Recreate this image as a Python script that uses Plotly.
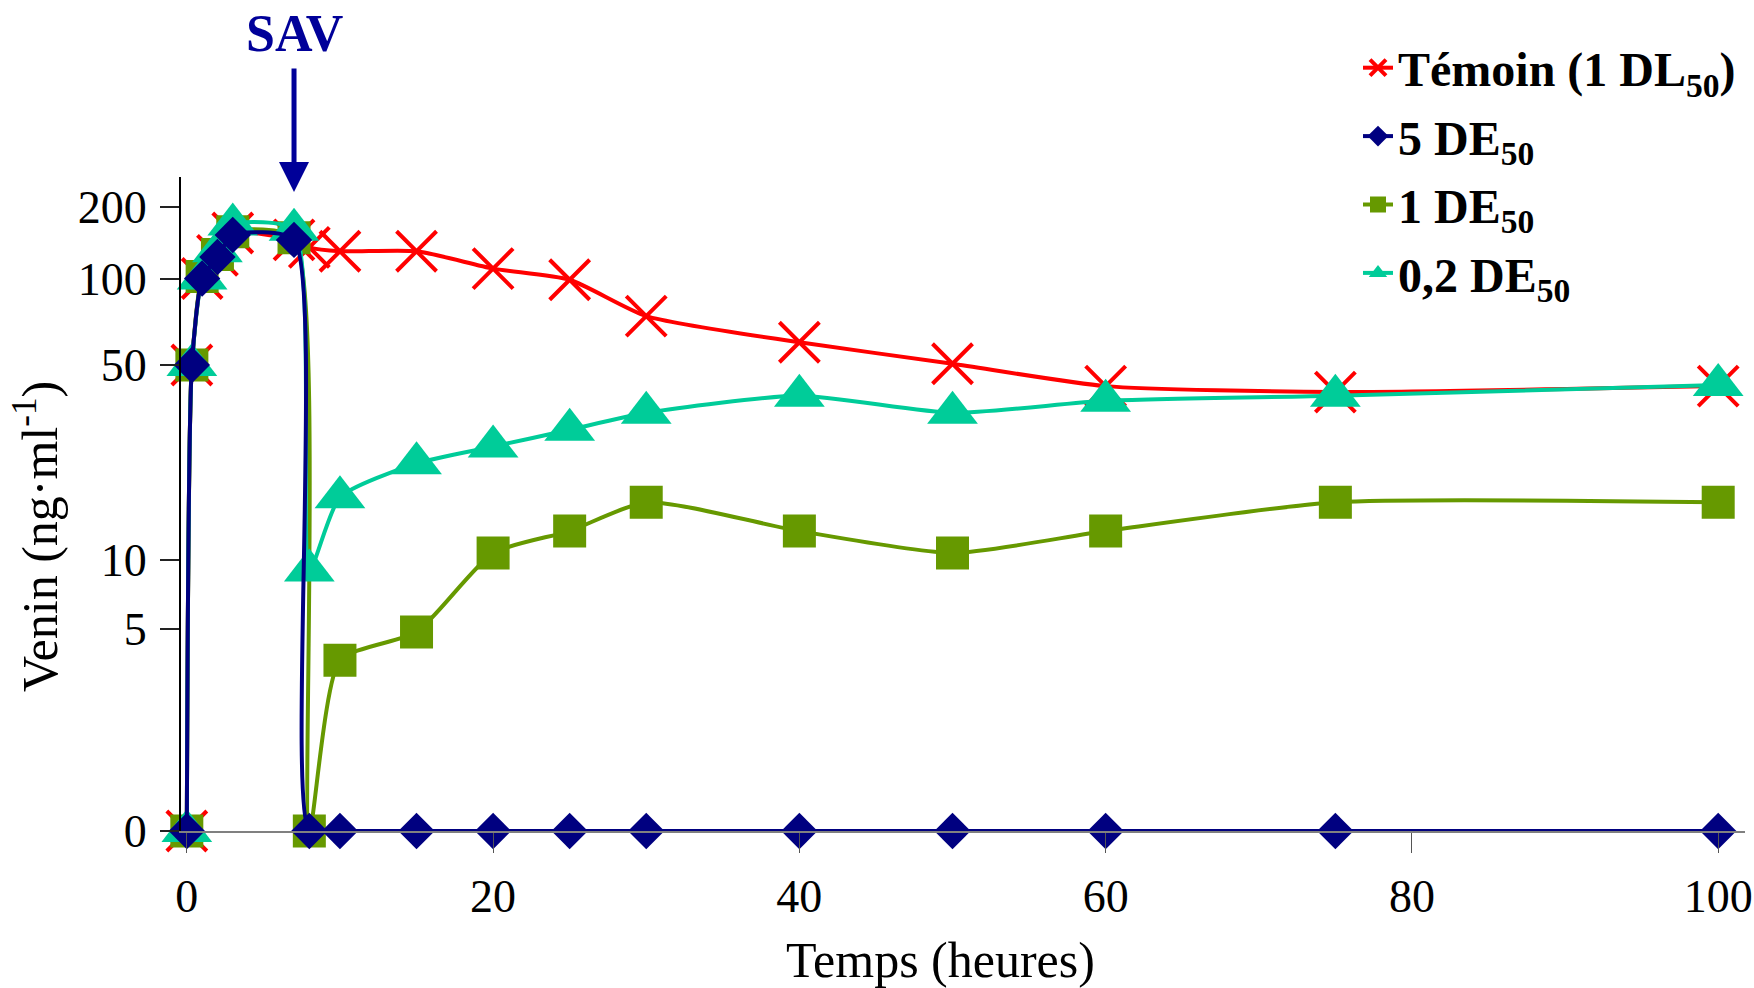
import math
import plotly.graph_objects as go

# ---------------- data ----------------
hours = [0, 0.33, 1, 2, 3, 7, 8, 10, 15, 20, 25, 30, 40, 50, 60, 75, 100]

temoin_1dl50 = [0, 50, 100, 125, 155, 145, 135, 130, 130, 110, 99, 74, 60, 50.5, 42, 40, 42]
de50_5 = [0, 50, 100, 123, 152, 145, 0, 0, 0, 0, 0, 0, 0, 0, 0, 0, 0]
de50_1 = [0, 50, 102, 126, 157, 148, 0, 3.65, 4.85, 10.6, 12.7, 16.1, 12.7, 10.6, 12.7, 16.1, 16.1]
de50_02 = [0, 50, 100, 130, 168, 160, 9.0, 16.8, 22.2, 25.5, 29.3, 33.7, 38.8, 33.7, 37.2, 38.8, 42.4]

series_names = ["<b>Témoin (1 DL<sub>50</sub>)</b>", "<b>5 DE<sub>50</sub></b>",
                "<b>1 DE<sub>50</sub></b>", "<b>0,2 DE<sub>50</sub></b>"]

x_tick_values = [0, 20, 40, 60, 80, 100]
y_tick_values = [0, 5, 10, 50, 100, 200]
y_tick_labels = ["0", "5", "10", "50", "100", "200"]

# ---------------- custom (hand-drawn, log-like) value axis ----------------
# axis anchor positions of the labelled values on the original chart's scale
Y_ANCHORS = [0, 202, 271, 466, 552.5, 624.5]


def venin_scale(v):
    """Map a venom concentration onto the original chart's piecewise log axis."""
    if v <= 0:
        return 0.0
    vals, pos = y_tick_values, Y_ANCHORS
    if v < vals[1]:
        slope = (pos[2] - pos[1]) / math.log(vals[2] / vals[1])
        return pos[1] + slope * math.log(v / vals[1])
    for i in range(1, len(vals) - 1):
        lo, hi = vals[i], vals[i + 1]
        if v <= hi or i == len(vals) - 2:
            f = math.log(v / lo) / math.log(hi / lo)
            return pos[i] + f * (pos[i + 1] - pos[i])


def scaled(values):
    return [venin_scale(v) for v in values]


RED = "#FF0000"
NAVY = "#000080"
GREEN = "#669900"
TEAL = "#00CC99"
SAV_BLUE = "#000099"
FONT = "Liberation Serif"

fig = go.Figure()

common = dict(mode="lines+markers", line_shape="spline", cliponaxis=False,
              hoverinfo="x+y")

fig.add_trace(go.Scatter(
    x=hours, y=scaled(temoin_1dl50), name=series_names[0], legendrank=1,
    legendgroup="g1",
    line=dict(color=RED, width=4, smoothing=0.6),
    marker=dict(symbol="x-thin", size=40, line=dict(color=RED, width=4), color=RED),
    customdata=temoin_1dl50, **common))
fig.add_trace(go.Scatter(
    x=hours, y=scaled(de50_1), name=series_names[2], legendrank=3,
    legendgroup="g3",
    line=dict(color=GREEN, width=4, smoothing=0.6),
    marker=dict(symbol="square", size=33, color=GREEN),
    customdata=de50_1, **common))
fig.add_trace(go.Scatter(
    x=hours, y=scaled(de50_02), name=series_names[3], legendrank=4,
    legendgroup="g4",
    line=dict(color=TEAL, width=4, smoothing=0.6),
    marker=dict(symbol="triangle-up", size=44, color=TEAL),
    customdata=de50_02, **common))
fig.add_trace(go.Scatter(
    x=hours, y=scaled(de50_5), name=series_names[1], legendrank=2,
    legendgroup="g2",
    line=dict(color=NAVY, width=4, smoothing=0.6),
    marker=dict(symbol="diamond", size=28, color=NAVY),
    customdata=de50_5, **common))

L, R, T, B = 181, 9, 177, 157
W, H = 1754, 988
plot_w = W - L - R
plot_h = H - T - B

fig.update_layout(
    width=W, height=H,
    margin=dict(l=L, r=R, t=T, b=B, autoexpand=False),
    paper_bgcolor="white", plot_bgcolor="white",
    font=dict(family=FONT, color="black", size=46),
    showlegend=True,
    legend=dict(xref="container", yref="container",
                x=1358 / W, y=1 - 30 / H,
                xanchor="left", yanchor="top",
                bgcolor="rgba(0,0,0,0)", font=dict(family=FONT, size=48, color="black"),
                itemsizing="trace", tracegroupgap=3),
    xaxis=dict(range=[-0.38, 101.75], tickvals=x_tick_values,
               ticktext=[str(v) for v in x_tick_values],
               showline=True, linecolor="#808080", linewidth=1.5,
               ticks="outside", ticklen=20, tickwidth=1, tickcolor="#555555",
               showgrid=False, zeroline=False, ticklabelstandoff=4,
               tickfont=dict(family=FONT, size=46, color="black")),
    yaxis=dict(range=[0, plot_h], tickvals=[venin_scale(v) for v in y_tick_values],
               ticktext=y_tick_labels,
               showline=True, linecolor="black", linewidth=2,
               ticks="outside", ticklen=19, tickwidth=1.5, tickcolor="#222222",
               showgrid=False, zeroline=False, ticklabelstandoff=4,
               tickfont=dict(family=FONT, size=46, color="black")),
    annotations=[
        dict(text="Temps (heures)", xref="paper", yref="paper",
             x=(940 - L) / plot_w, y=(H - B - 960) / plot_h,
             xanchor="center", yanchor="middle",
             showarrow=False, font=dict(family=FONT, size=50, color="black")),
        dict(text="Venin (ng·ml<sup>-1</sup>)", xref="paper", yref="paper",
             x=(36 - L) / plot_w, y=(H - B - 537) / plot_h, textangle=-90,
             xanchor="center", yanchor="middle",
             showarrow=False, font=dict(family=FONT, size=50, color="black")),
        dict(text="<b>SAV</b>", xref="x", yref="paper", x=7,
             y=(H - B - 33) / plot_h, xanchor="center", yanchor="middle",
             showarrow=False, font=dict(family=FONT, size=52, color=SAV_BLUE)),
        dict(text="", xref="x", yref="y", x=7, y=H - B - 192,
             axref="x", ayref="y", ax=7, ay=H - B - 67,
             showarrow=True, arrowhead=2, arrowsize=1.2, arrowwidth=5,
             arrowcolor=SAV_BLUE, standoff=0),
    ],
)

fig.write_html("out.html", config={"displayModeBar": False},
               post_script="document.body.style.margin='0';document.body.style.overflow='hidden';")
